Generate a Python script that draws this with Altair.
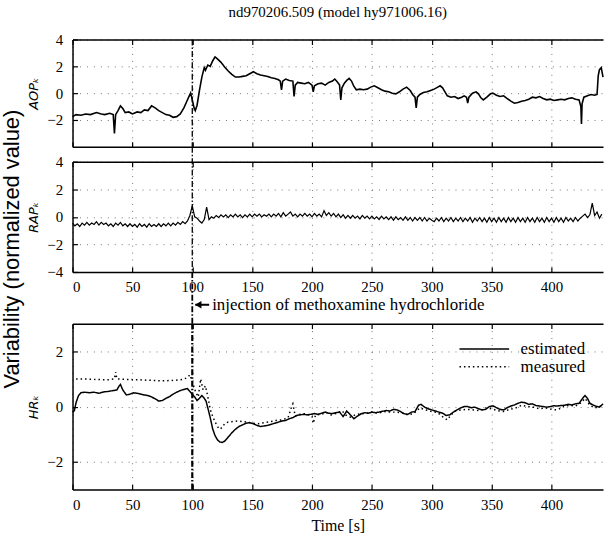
import altair as alt
import pandas as pd

# ---------------- data ----------------
title_text = "nd970206.509  (model hy971006.16)"
y_title = "Variability (normalized value)"
annotation_text = "injection of methoxamine hydrochloride"
x_title = "Time [s]"
panel_titles = ["AOPₖ", "RAPₖ", "HRₖ"]
x_tick_values = [0, 50, 100, 150, 200, 250, 300, 350, 400]
injection_time = [100]
series_names = ["estimated", "measured"]

aop_points = [
    (0, -1.75), (3, -1.6), (7, -1.65), (11, -1.55), (15, -1.6), (20, -1.45), (24, -1.55), (27, -1.6), (31, -1.5), (34, -1.6),
    (35, -3.0), (36, -1.6), (38, -1.3), (40, -0.95), (42, -1.15), (44, -1.45), (47, -1.4), (50, -1.55), (54, -1.4), (57, -1.45),
    (60, -1.25), (63, -1.3), (66, -0.95), (69, -1.1), (72, -1.3), (75, -1.45), (78, -1.6), (81, -1.65), (84, -1.8), (87, -1.75),
    (90, -1.55), (93, -1.1), (95, -0.7), (97, -0.3), (98.6, 0.0), (100, -0.5), (101.5, -1.1), (102.5, -1.3), (104, -0.9), (106, 0.2),
    (108, 1.2), (110, 1.9), (111, 1.7), (113, 2.1), (115, 2.0), (117, 2.4), (119, 2.7), (121, 2.55), (124, 2.3), (127, 1.95),
    (130, 1.65), (133, 1.4), (136, 1.2), (139, 1.2), (142, 1.25), (145, 1.3), (148, 1.45), (151, 1.6), (154, 1.45), (157, 1.35),
    (160, 1.3), (163, 1.25), (166, 1.15), (169, 1.1), (172, 1.0), (173.5, 0.9), (174.5, 0.25), (175.5, 0.9), (178, 1.05), (181, 0.95),
    (184, 0.9), (185, -0.25), (186, 0.6), (188, 0.8), (191, 0.75), (194, 0.7), (197, 0.8), (200, 0.6), (201, 0.1), (202, 0.55),
    (205, 0.7), (208, 0.75), (211, 0.6), (214, 0.8), (217, 0.9), (219, 1.05), (221, 0.85), (223, 0.6), (224, -0.5), (225, 0.4),
    (227, 0.75), (229, 0.95), (231, 1.1), (233, 0.9), (235, 0.5), (237, 0.25), (240, 0.3), (243, 0.25), (246, 0.3), (249, 0.45),
    (252, 0.55), (255, 0.4), (258, 0.25), (261, 0.15), (264, 0.1), (267, 0.0), (270, -0.05), (273, 0.1), (276, 0.3), (279, 0.45),
    (282, 0.2), (284, -0.1), (286, -0.3), (287, -1.1), (288, -0.3), (290, -0.1), (293, 0.05), (296, 0.1), (299, 0.2), (302, 0.3),
    (305, 0.45), (307, 0.55), (309, 0.4), (311, 0.1), (313, -0.2), (316, -0.3), (319, -0.25), (322, -0.4), (325, -0.3), (327, -0.2),
    (329, -0.3), (330, -0.75), (331, -0.3), (334, 0.0), (337, 0.1), (339, -0.05), (341, -0.35), (343, -0.5), (346, -0.3), (349, -0.05),
    (351, 0.0), (354, -0.15), (357, -0.25), (360, -0.2), (363, -0.4), (366, -0.6), (369, -0.75), (372, -0.7), (375, -0.6), (378, -0.55),
    (381, -0.45), (384, -0.3), (387, -0.35), (390, -0.25), (393, -0.4), (396, -0.5), (399, -0.45), (402, -0.55), (405, -0.5), (408, -0.45),
    (411, -0.5), (414, -0.4), (417, -0.35), (420, -0.45), (423, -0.5), (424.5, -1.0), (425, -2.3), (425.5, -0.8), (427, -0.3), (430, -0.2),
    (433, -0.1), (436, -0.15), (438, -0.1), (439, 1.3), (440, 1.75), (441.5, 1.9), (443, 1.2),
]

# RAP sampled every 2 s from 0 to 442 s
rap_values = [
    -0.45, -0.65, -0.5, -0.7, -0.45, -0.6, -0.4, -0.6, -0.45, -0.55,
    -0.35, -0.6, -0.4, -0.55, -0.45, -0.65, -0.5, -0.7, -0.45, -0.6,
    -0.4, -0.65, -0.5, -0.7, -0.5, -0.7, -0.55, -0.75, -0.5, -0.7,
    -0.55, -0.75, -0.5, -0.7, -0.55, -0.7, -0.5, -0.7, -0.5, -0.65,
    -0.45, -0.65, -0.45, -0.6, -0.4, -0.55, -0.35, -0.5,
    -0.3, 0.1, 0.8, 0.0, -0.1, -0.3, -0.45, -0.2, 0.7, -0.2,
    0.0, -0.1, 0.1, -0.05, 0.15, 0.0, 0.15, -0.05, 0.15, 0.0,
    0.2, 0.0, 0.15, -0.05,
    0.15, 0.0, 0.2, 0.0, 0.2, 0.05, 0.2, 0.0, 0.15, 0.05,
    0.2, 0.0, 0.2, 0.05, 0.25, 0.0, 0.3, 0.05, 0.2, 0.35,
    0.05, 0.2, 0.0, 0.2, 0.05, 0.25, 0.05, 0.2, 0.0, 0.25,
    0.05, 0.2, 0.0, 0.45,
    0.1, 0.3, 0.05, 0.25, 0.0, 0.2, -0.05, 0.15, -0.1, 0.1,
    -0.1, 0.1, -0.1, 0.05, -0.15, 0.1, -0.1, 0.05, -0.15, 0.05,
    -0.15, 0.0, -0.2, 0.05, -0.15, 0.0, -0.2, 0.0, -0.25, 0.0,
    -0.2, -0.05, -0.25, 0.0, -0.25, -0.05, -0.3, -0.05, -0.25, -0.05,
    -0.3, -0.05, -0.3, -0.1, -0.25,
    -0.35, -0.1, -0.3, -0.05, -0.35, -0.1, -0.3, -0.05, -0.35, -0.1,
    -0.3, -0.05, -0.35, -0.1, -0.3, -0.05, -0.4, -0.1, -0.3, -0.05,
    -0.35, -0.1, -0.4, -0.05, -0.35, -0.1, -0.4, -0.05, -0.35, -0.1,
    -0.4, -0.05, -0.35, -0.1, -0.4, -0.05, -0.35, -0.1, -0.4, -0.05,
    -0.35, -0.1, -0.4, -0.05, -0.35, -0.1, -0.4, -0.05, -0.35, -0.1,
    -0.4, -0.05, -0.35, -0.1, -0.4, -0.05, -0.3, -0.1, -0.35, -0.05,
    -0.3, -0.1,
    0.05, 0.2, -0.05, 0.15, 1.0, 0.1, 0.35, -0.1, 0.2,
]
rap_times = [2 * i for i in range(len(rap_values))]

hr_estimated_points = [
    (0, -0.2), (1.5, -0.15), (3, 0.15), (5, 0.4), (7, 0.5), (10, 0.52), (14, 0.5), (18, 0.52), (22, 0.48), (26, 0.53),
    (30, 0.55), (34, 0.58), (37, 0.6), (39, 0.75), (40, 0.8), (42, 0.6), (45, 0.42), (48, 0.45), (51, 0.5), (54, 0.48),
    (57, 0.45), (60, 0.42), (63, 0.4), (66, 0.35), (69, 0.28), (72, 0.2), (75, 0.22), (78, 0.3), (81, 0.36), (84, 0.45),
    (87, 0.52), (90, 0.58), (93, 0.62), (96, 0.65), (98, 0.55), (100, 0.45), (102, 0.35), (104, 0.22), (106, 0.3), (108, 0.4),
    (110, 0.3), (111.5, 0.2), (113, -0.05), (115, -0.4), (117, -0.8), (119, -1.05), (121, -1.2), (123, -1.28), (125, -1.3), (127, -1.25),
    (130, -1.1), (133, -0.95), (136, -0.82), (139, -0.72), (142, -0.66), (145, -0.6), (148, -0.58), (151, -0.62), (154, -0.68), (157, -0.72),
    (160, -0.7), (163, -0.68), (166, -0.64), (169, -0.6), (172, -0.56), (175, -0.52), (178, -0.5), (181, -0.44), (184, -0.4), (187, -0.32),
    (190, -0.3), (193, -0.28), (196, -0.3), (199, -0.28), (202, -0.25), (205, -0.28), (208, -0.24), (211, -0.2), (214, -0.24), (217, -0.25),
    (220, -0.22), (223, -0.2), (226, -0.36), (229, -0.16), (232, -0.3), (235, -0.44), (238, -0.34), (241, -0.26), (244, -0.22), (247, -0.24),
    (250, -0.2), (253, -0.22), (256, -0.2), (259, -0.17), (262, -0.14), (265, -0.16), (268, -0.1), (271, -0.12), (274, -0.18), (277, -0.26),
    (280, -0.28), (283, -0.2), (286, -0.18), (289, 0.05), (291, 0.08), (294, -0.02), (297, -0.08), (300, -0.12), (303, -0.16), (306, -0.2),
    (309, -0.24), (312, -0.32), (315, -0.3), (318, -0.2), (321, -0.12), (324, -0.05), (327, 0.0), (330, 0.0), (333, -0.04), (336, -0.02),
    (339, -0.08), (342, -0.12), (345, -0.1), (348, 0.0), (351, 0.03), (354, -0.04), (357, -0.1), (360, -0.12), (363, -0.04), (366, 0.02),
    (369, 0.06), (372, 0.12), (375, 0.16), (378, 0.14), (381, 0.08), (384, 0.1), (387, 0.04), (390, 0.02), (393, 0.0), (396, -0.02),
    (399, 0.0), (402, 0.03), (405, 0.02), (408, 0.04), (411, 0.05), (414, 0.08), (417, 0.06), (420, 0.1), (423, 0.12), (426, 0.3),
    (428, 0.4), (430, 0.3), (432, 0.12), (435, 0.05), (438, 0.0), (440, -0.02), (443, 0.1),
]

hr_measured_points = [
    (3, 1.0), (10, 1.0), (20, 0.98), (30, 0.97), (35, 1.0), (36, 1.25), (37, 1.0), (45, 0.98), (55, 0.97), (65, 0.95),
    (75, 0.93), (85, 0.95), (92, 0.98), (96, 1.05), (98, 1.15), (100, 0.9), (103, 0.5), (105, 0.35), (107, 1.0), (109, 0.6),
    (111, 0.75), (113, 0.35), (115, -0.1), (117, -0.35), (119, -0.55), (121, -0.72), (123, -0.82), (125, -0.75), (127, -0.62), (130, -0.56),
    (134, -0.54), (138, -0.52), (142, -0.54), (146, -0.56), (150, -0.6), (155, -0.62), (160, -0.58), (165, -0.55), (170, -0.5), (175, -0.48),
    (180, -0.4), (183, 0.0), (184, 0.1), (186, -0.35), (190, -0.28), (195, -0.25), (200, -0.35), (201, -0.6), (203, -0.3), (208, -0.28),
    (212, -0.22), (216, -0.3), (220, -0.25), (225, -0.15), (228, -0.3), (232, -0.38), (236, -0.3), (240, -0.26), (245, -0.25), (250, -0.2),
    (255, -0.24), (260, -0.18), (265, -0.2), (270, -0.2), (275, -0.22), (280, -0.3), (285, -0.25), (290, -0.05), (295, -0.12), (300, -0.18),
    (305, -0.22), (310, -0.4), (313, -0.48), (316, -0.3), (320, -0.15), (325, -0.12), (330, -0.1), (335, -0.12), (340, -0.15), (345, -0.05),
    (350, -0.08), (355, -0.15), (360, -0.18), (365, -0.1), (370, -0.05), (375, 0.05), (380, 0.0), (385, -0.02), (390, -0.08), (395, -0.05),
    (400, -0.1), (405, -0.12), (410, 0.0), (415, 0.05), (420, 0.02), (425, 0.15), (428, 0.3), (432, 0.05), (436, -0.05), (440, 0.0),
    (443, 0.05),
]

# ---------------- tables ----------------
aop_df = pd.DataFrame(aop_points, columns=["t", "v"])
rap_df = pd.DataFrame({"t": rap_times, "v": rap_values})
hr_df = pd.concat([
    pd.DataFrame(hr_estimated_points, columns=["t", "v"]).assign(series=series_names[0]),
    pd.DataFrame(hr_measured_points, columns=["t", "v"]).assign(series=series_names[1]),
])
inj_df = pd.DataFrame({"t": injection_time})

# ---------------- style ----------------
SERIF = "Liberation Serif, Times New Roman, DejaVu Serif, serif"
SANS = "Liberation Sans, Arial, DejaVu Sans, sans-serif"
SUBFONT = "DejaVu Sans"
W = 534
XD = [0, 443]
H1, H2, HS, H3 = 108, 111, 22, 167
GAP = 15
INWARD = alt.ExprRef(expr="-5")
DASHDOT = [6, 2, 1.5, 2]
LBL = dict(labelFont=SERIF, labelFontSize=15, labelColor="black")


def xscale():
    return alt.Scale(domain=XD, nice=False, zero=False)


def bottom_axis(labels, title=None):
    return alt.Axis(values=x_tick_values, labels=labels, tickSize=INWARD,
                    labelPadding=13, grid=True, domain=True, title=title,
                    titleFont=SERIF, titleFontSize=16, titleFontWeight="normal",
                    titlePadding=5, **LBL)


def top_axis():
    return alt.Axis(orient="top", values=x_tick_values, labels=False,
                    tickSize=INWARD, grid=False, domain=True, title=None)


def y_axis(values, title):
    return alt.Axis(values=values, tickSize=INWARD, labelPadding=15, grid=True,
                    domain=True, title=title, titleFont=SUBFONT, titleFontSize=13,
                    titleFontStyle="italic", titleFontWeight="normal", titlePadding=6,
                    **LBL)


def vline(height, up=0, down=0, width=1.3, axis=True):
    enc = dict(x=alt.X("t:Q", scale=xscale(), axis=top_axis() if axis else None))
    if up or down:
        enc["y"] = alt.value(-up)
        enc["y2"] = alt.value(height + down)
    return alt.Chart(inj_df).mark_rule(color="black", strokeWidth=width,
                                       strokeDash=DASHDOT).encode(**enc)


# panel 1: AOP
p1 = alt.layer(
    alt.Chart(aop_df).mark_line(color="black", strokeWidth=1.6).encode(
        x=alt.X("t:Q", scale=xscale(), axis=bottom_axis(False)),
        y=alt.Y("v:Q", scale=alt.Scale(domain=[-4, 4], nice=False),
                axis=y_axis([-2, 0, 2, 4], panel_titles[0])),
    ),
    vline(H1),
).resolve_axis(x="independent").properties(
    width=W, height=H1,
    title=alt.TitleParams(title_text, font=SERIF, fontSize=15, fontWeight="normal",
                          anchor="middle", offset=13, color="black"),
)

# panel 2: RAP
p2 = alt.layer(
    alt.Chart(rap_df).mark_line(color="black", strokeWidth=1.2).encode(
        x=alt.X("t:Q", scale=xscale(), axis=bottom_axis(True)),
        y=alt.Y("v:Q", scale=alt.Scale(domain=[-4, 4], nice=False),
                axis=y_axis([-4, -2, 0, 2, 4], panel_titles[1])),
    ),
    vline(H2, up=GAP),
).resolve_axis(x="independent").properties(width=W, height=H2)

# spacer row between panel 2 and 3: injection marker and annotation
ann_y = 18
arrow_shaft = alt.Chart(inj_df).mark_rule(color="black", strokeWidth=2,
                                          xOffset=3, x2Offset=17).encode(
    x=alt.X("t:Q", scale=xscale(), axis=None), x2="t:Q", y=alt.value(ann_y))
arrow_head = alt.Chart(inj_df).mark_point(shape="triangle-left", filled=True,
                                          color="black", size=55, opacity=1,
                                          xOffset=6).encode(
    x=alt.X("t:Q", scale=xscale(), axis=None), y=alt.value(ann_y))
ann_text = alt.Chart(inj_df).mark_text(align="left", baseline="middle", dx=20,
                                       font=SERIF, fontSize=17, color="black").encode(
    x=alt.X("t:Q", scale=xscale(), axis=None), y=alt.value(ann_y),
    text=alt.value(annotation_text))
spacer = alt.layer(
    vline(HS, up=GAP, down=GAP, width=1.8, axis=False), arrow_shaft, arrow_head, ann_text,
).properties(width=W, height=HS)

# panel 3: HR
hr_lines = alt.Chart(hr_df).mark_line(color="black", strokeWidth=1.5).encode(
    x=alt.X("t:Q", scale=xscale(), axis=bottom_axis(True, x_title)),
    y=alt.Y("v:Q", scale=alt.Scale(domain=[-3, 3], nice=False),
            axis=y_axis([-2, 0, 2], panel_titles[2])),
    strokeDash=alt.StrokeDash(
        "series:N",
        scale=alt.Scale(domain=series_names, range=[[1, 0], [1.5, 3]]),
        legend=alt.Legend(orient="top-right", title=None, symbolType="M-5,0H5",
                          symbolSize=100, symbolStrokeWidth=1.5,
                          symbolStrokeColor="black", symbolFillColor="transparent",
                          labelFont=SERIF, labelFontSize=17, labelColor="black",
                          labelOffset=28, rowPadding=0, offset=17, padding=0),
    ),
)

p3 = alt.layer(hr_lines, vline(H3, width=2.2)).resolve_axis(
    x="independent").properties(width=W, height=H3)

chart = alt.vconcat(p1, p2, spacer, p3, spacing=GAP, bounds="flush").resolve_legend(
    strokeDash="independent"
).properties(
    title=alt.TitleParams(y_title, orient="left", anchor="middle", font=SANS,
                          fontSize=22, fontWeight="normal", offset=3, dx=20,
                          color="black"),
    padding={"left": 1, "top": 2, "right": 0, "bottom": 2},
).configure(font=SERIF).configure_view(stroke="transparent").configure_axis(
    labelFont=SERIF, labelFontSize=15, labelColor="black", tickColor="black",
    tickWidth=1.2, domainColor="black", domainWidth=1.5, gridColor="black",
    gridDash=[1, 6], gridOpacity=0.55, gridWidth=1, titleColor="black",
).configure_text(font=SERIF)

chart.save("out.html", embed_options={"renderer": "svg", "actions": False})
